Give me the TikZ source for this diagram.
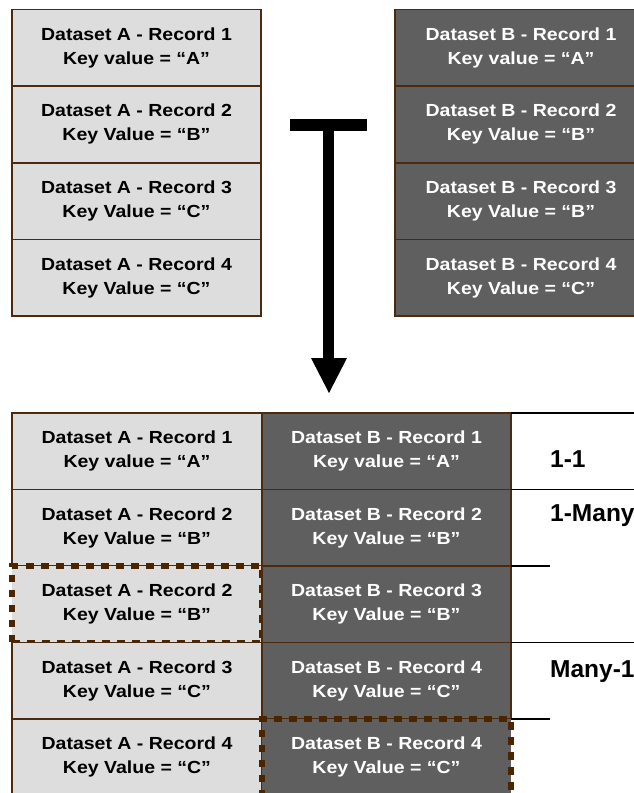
\documentclass[tikz,border=0pt]{standalone}
\usepackage{fontspec}
\setmainfont{Liberation Sans}
\newfontfamily\recfont[FakeStretch=1.115]{Liberation Sans}
\definecolor{lightfill}{HTML}{DDDDDD}
\definecolor{darkfill}{HTML}{5F5F5F}
\definecolor{cellborder}{HTML}{4B2B0F}
\definecolor{dashcol}{HTML}{4A2500}
\tikzset{
  cellbase/.style={rectangle, inner sep=0pt, outer sep=0pt, align=center, line width=1.6pt,
    font=\recfont\bfseries\fontsize{17.5}{24}\selectfont},
  cellA/.style={cellbase, fill=lightfill, draw=cellborder, text=black},
  cellB/.style={cellbase, fill=darkfill, draw=cellborder, text=white},
  dashA/.style={cellbase, fill=lightfill, draw=dashcol, line width=6pt, dash pattern=on 7.5pt off 7.5pt, text=black},
  dashB/.style={cellbase, fill=darkfill, draw=dashcol, line width=6pt, dash pattern=on 7.5pt off 7.5pt, text=white},
  topA/.style={minimum width=249pt, minimum height=76.6pt},
  topB/.style={minimum width=252pt, minimum height=76.6pt},
  botA/.style={minimum width=250pt, minimum height=76.5pt},
  botB/.style={minimum width=249pt, minimum height=76.5pt},
  rule/.style={draw=black, line width=1.5pt},
  tag/.style={anchor=base west, inner sep=0pt, font=\bfseries\fontsize{24.5}{28}\selectfont}
}
\begin{document}
\begin{tikzpicture}[x=1pt,y=-1pt]
\useasboundingbox (0,0) rectangle (634,793);
\clip (0,0) rectangle (634,793);
% top-left dataset A
\node[cellA,topA] (ta1) at (136.5,47.8) {Dataset A - Record 1\\Key value = “A”};
\node[cellA,topA] (ta2) at (136.5,124.4) {Dataset A - Record 2\\Key Value = “B”};
\node[cellA,topA] (ta3) at (136.5,201.0) {Dataset A - Record 3\\Key Value = “C”};
\node[cellA,topA] (ta4) at (136.5,277.6) {Dataset A - Record 4\\Key Value = “C”};
% top-right dataset B
\node[cellB,topB] (tb1) at (521,47.8) {Dataset B - Record 1\\Key value = “A”};
\node[cellB,topB] (tb2) at (521,124.4) {Dataset B - Record 2\\Key Value = “B”};
\node[cellB,topB] (tb3) at (521,201.0) {Dataset B - Record 3\\Key Value = “B”};
\node[cellB,topB] (tb4) at (521,277.6) {Dataset B - Record 4\\Key Value = “C”};
% arrow
\fill[black] (290,119) rectangle (367,131);
\fill[black] (323,130) rectangle (334,359);
\fill[black] (311,358) -- (347,358) -- (329,393) -- cycle;
% bottom joined table
\node[cellA,botA] (a1) at (137,451.25) {Dataset A - Record 1\\Key value = “A”};
\node[cellB,botB] (b1) at (386.5,451.25) {Dataset B - Record 1\\Key value = “A”};
\node[cellA,botA] (a2) at (137,527.75) {Dataset A - Record 2\\Key Value = “B”};
\node[cellB,botB] (b2) at (386.5,527.75) {Dataset B - Record 2\\Key Value = “B”};
\node[dashA,botA] (a3) at (137,604.25) {Dataset A - Record 2\\Key Value = “B”};
\node[cellB,botB] (b3) at (386.5,604.25) {Dataset B - Record 3\\Key Value = “B”};
\node[cellA,botA] (a4) at (137,680.75) {Dataset A - Record 3\\Key Value = “C”};
\node[cellB,botB] (b4) at (386.5,680.75) {Dataset B - Record 4\\Key Value = “C”};
\node[cellA,botA] (a5) at (137,757.25) {Dataset A - Record 4\\Key Value = “C”};
\node[dashB,botB] (b5) at (386.5,757.25) {Dataset B - Record 4\\Key Value = “C”};
% relation column rules
\coordinate (r1) at (640,413);
\coordinate (r2) at (640,489.5);
\coordinate (r3) at (550,566);
\coordinate (r4) at (640,642.5);
\coordinate (r5) at (550,719);
\draw[rule] (b1.north east) -- (r1);
\draw[rule] (b2.north east) -- (r2);
\draw[rule] (b3.north east) -- (r3);
\draw[rule] (b4.north east) -- (r4);
\draw[rule] (b5.north east) -- (r5);
% relation labels
\node[tag] (l1) at (550,467) {1-1};
\node[tag] (l2) at (550,521) {1-Many};
\node[tag] (l3) at (550,677) {Many-1};
\end{tikzpicture}
\end{document}
